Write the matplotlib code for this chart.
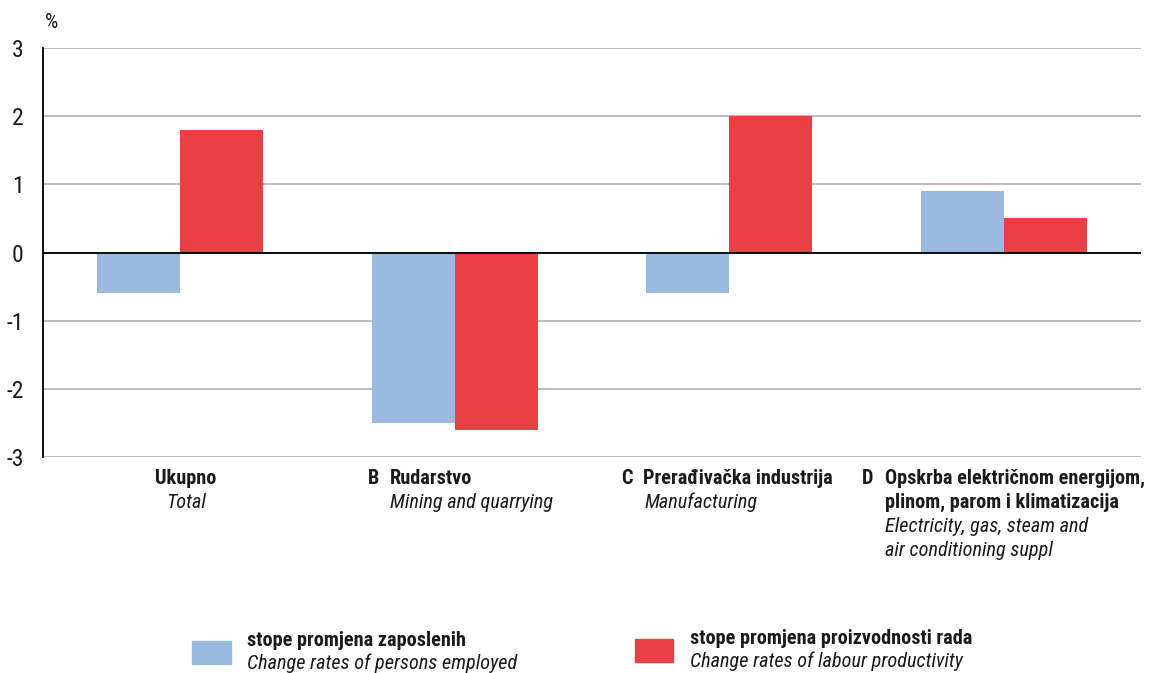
import matplotlib
matplotlib.use("Agg")
import matplotlib.pyplot as plt
from matplotlib import font_manager
from matplotlib.patches import Rectangle
import numpy as np

# data
categories = ["Ukupno", "B Rudarstvo", "C Prerađivačka industrija", "D Opskrba električnom energijom"]
employed = [-0.6, -2.5, -0.6, 0.9]
productivity = [1.8, -2.6, 2.0, 0.5]
yticks = [-3, -2, -1, 0, 1, 2, 3]

blue = "#9bbadf"
red = "#e84045"

names = {f.name for f in font_manager.fontManager.ttflist}
font = "Roboto Condensed" if "Roboto Condensed" in names else "Roboto"
plt.rcParams["font.family"] = [font, "DejaVu Sans"]

W, H = 1151, 673
fig = plt.figure(figsize=(W / 100, H / 100), dpi=100)
ax = fig.add_axes([43 / W, 1 - 457 / H, (1141 - 43) / W, (457 - 48) / H])

x = np.arange(len(categories))
bw = 0.302
ax.bar(x - bw / 2, employed, bw, color=blue, zorder=3)
ax.bar(x + bw / 2, productivity, bw, color=red, zorder=3)

ax.set_xlim(-0.5, 3.5)
ax.set_ylim(-3, 3)
ax.set_yticks(yticks)
ax.set_yticklabels([str(t) for t in yticks], fontsize=17, color="#1a1a1a")
ax.set_xticks([])
ax.tick_params(axis="y", length=0, pad=14)
ax.grid(axis="y", color="#b0b0b0", linewidth=1.2, zorder=0)
ax.axhline(0, color="black", linewidth=1.3, zorder=4)
for s in ["top", "right", "bottom"]:
    ax.spines[s].set_visible(False)
ax.spines["left"].set_linewidth(1.3)
ax.spines["left"].set_zorder(5)

fig.text(45 / W, 1 - 23 / H, "%", fontsize=15, va="center", ha="left", color="#1a1a1a")


def px(xp, yp, s, **kw):
    fig.text(xp / W, 1 - yp / H, s, va="center", **kw)


fs = 13 if font == "Roboto" else 14.6
b = dict(fontsize=fs, fontweight="bold", color="#1a1a1a")
it = dict(fontsize=fs, fontstyle="italic", color="#1a1a1a")

px(186, 478, "Ukupno", ha="center", **b)
px(186, 502, "Total", ha="center", **it)

px(368, 478, "B", ha="left", **b)
px(390, 478, "Rudarstvo", ha="left", **b)
px(390, 502, "Mining and quarrying", ha="left", **it)

px(621, 478, "C", ha="left", **b)
px(643, 478, "Prerađivačka industrija", ha="left", **b)
px(645, 502, "Manufacturing", ha="left", **it)

px(862, 478, "D", ha="left", **b)
px(885, 478, "Opskrba električnom energijom,", ha="left", **b)
px(885, 502, "plinom, parom i klimatizacija", ha="left", **b)
px(885, 526, "Electricity, gas, steam and", ha="left", **it)
px(885, 550, "air conditioning suppl", ha="left", **it)

# legend
fig.patches.append(Rectangle((192 / W, 1 - 664 / H), 39 / W, 23 / H,
                             transform=fig.transFigure, color=blue))
fig.patches.append(Rectangle((635 / W, 1 - 662 / H), 38 / W, 23 / H,
                             transform=fig.transFigure, color=red))
px(247, 640, "stope promjena zaposlenih", ha="left", **b)
px(247, 663, "Change rates of persons employed", ha="left", **it)
px(690, 638, "stope promjena proizvodnosti rada", ha="left", **b)
px(690, 661, "Change rates of labour productivity", ha="left", **it)

fig.savefig("out.png", dpi=100)
